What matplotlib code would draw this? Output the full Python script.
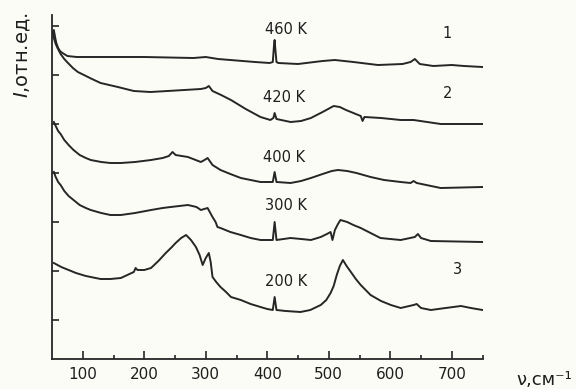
import numpy as np
import matplotlib
matplotlib.use('Agg')
import matplotlib.pyplot as plt

# Raman spectra, wavenumber (cm^-1) vs relative intensity (arb. units, curves offset)
v_460 = [50, 53, 55, 57, 60, 63, 67, 75, 90, 120, 200, 280, 300, 320, 380, 404, 409, 411, 412, 413, 415, 418,
         450, 490, 510, 540, 580, 620, 633, 640, 648, 670, 700, 720, 750]
i_460 = [325, 329, 322, 316, 311, 308, 306, 303, 302, 302, 302, 301, 302, 300, 297, 296, 297, 314, 319, 311, 297, 296,
         295, 298, 299, 297, 294, 295, 297, 300, 295, 293, 294, 293, 292]

v_420 = [52, 53, 56, 59, 64, 70, 76, 84, 92, 102, 115, 129, 143, 157, 170, 183, 210, 238, 265, 292, 300, 305,
         311, 325, 341, 365, 389, 405, 410, 412, 415, 438, 455, 471, 490, 508, 518, 528, 540, 552, 555, 558,
         585, 617, 638, 660, 682, 750]
i_420 = [326, 321, 315, 311, 305, 300, 296, 291, 287, 284, 280, 276, 274, 272, 270, 268, 267, 268, 269, 270, 271, 273,
         268, 264, 259, 250, 242, 239, 241, 246, 240, 237, 238, 241, 247, 253, 252, 249, 246, 243, 238, 242,
         241, 239, 239, 237, 235, 235]

v_400 = [53, 56, 60, 64, 70, 77, 85, 95, 105, 113, 130, 145, 162, 185, 211, 230, 240, 246, 251, 271, 292, 298,
         303, 311, 324, 340, 357, 373, 389, 409, 412, 415, 438, 455, 471, 490, 505, 515, 530, 545, 568, 590,
         617, 633, 638, 643, 682, 750]
i_400 = [237, 233, 228, 225, 219, 214, 209, 204, 201, 199, 197, 196, 196, 197, 199, 201, 203, 207, 204, 202, 197, 199,
         201, 194, 189, 185, 181, 179, 177, 177, 187, 177, 176, 178, 181, 185, 188, 189, 188, 186, 182, 179,
         177, 176, 178, 176, 171, 172]

v_300 = [53, 56, 60, 64, 70, 77, 85, 95, 105, 113, 130, 145, 162, 185, 211, 230, 243, 271, 285, 292, 303, 311,
         316, 319, 324, 340, 357, 373, 389, 409, 412, 415, 438, 455, 471, 487, 497, 503, 506, 510, 515, 519,
         530, 540, 552, 568, 584, 600, 617, 640, 645, 650, 666, 750]
i_300 = [187, 182, 177, 174, 168, 163, 159, 154, 151, 149, 146, 144, 144, 146, 149, 151, 152, 154, 152, 149, 151, 142,
         137, 132, 131, 127, 124, 121, 119, 119, 137, 119, 121, 120, 119, 122, 125, 127, 119, 129, 135, 139,
         137, 134, 131, 126, 121, 120, 119, 122, 125, 121, 118, 117]

v_200 = [53, 65, 77, 89, 105, 129, 145, 162, 183, 186, 189, 200, 211, 223, 235, 245, 251, 260, 268, 276, 284, 290,
         295, 300, 305, 308, 311, 317, 324, 333, 341, 357, 373, 389, 400, 409, 412, 415, 430, 454, 470, 487,
         496, 503, 508, 513, 518, 523, 529, 536, 544, 552, 560, 568, 585, 601, 617, 638, 643, 650, 666, 690,
         715, 731, 750]
i_200 = [96, 92, 89, 86, 83, 80, 80, 81, 87, 91, 89, 89, 91, 98, 106, 112, 116, 121, 124, 119, 112, 104,
         94, 101, 106, 97, 82, 77, 72, 67, 62, 59, 55, 52, 50, 49, 62, 49, 48, 47, 49, 54,
         59, 66, 73, 84, 93, 99, 93, 87, 80, 74, 69, 64, 58, 54, 51, 54, 55, 51, 49, 51,
         53, 51, 49]

temps = ['460 K', '420 K', '400 K', '300 K', '200 K']
temp_pos = [(430, 330), (428, 262), (428, 202), (430, 154), (430, 77)]
nums = ['1', '2', '3']
num_pos = [(693, 326), (693, 266), (710, 89)]

ink = '#262626'
fig = plt.figure(figsize=(5.76, 3.89), dpi=100, facecolor='#fcfcf7')
ax = fig.add_axes([52 / 576, 30 / 389, 430.5 / 576, 344 / 389])
ax.set_facecolor('#fcfcf7')

for v, i in [(v_460, i_460), (v_420, i_420), (v_400, i_400), (v_300, i_300), (v_200, i_200)]:
    ax.plot(v, i, color=ink, lw=1.4, solid_joinstyle='round')

for t, (x, y) in zip(temps, temp_pos):
    ax.text(x, y, t, ha='center', va='center', fontsize=10.5, color='#1e1e1e')
for t, (x, y) in zip(nums, num_pos):
    ax.text(x, y, t, ha='center', va='center', fontsize=10.5, color='#1e1e1e')

ax.set_xlim(50, 750)
ax.set_ylim(0, 344)
ax.set_xticks(range(100, 800, 100))
ax.set_xticks(range(150, 800, 100), minor=True)
ax.set_yticks(np.arange(39, 344, 49))
ax.set_yticklabels([])
ax.tick_params(axis='x', which='major', direction='in', length=6, width=1.2, color=ink,
               labelsize=11, labelcolor='#1e1e1e', pad=6)
ax.tick_params(axis='x', which='minor', direction='in', length=3, width=1.2, color=ink)
ax.tick_params(axis='y', direction='in', length=5, width=1.2, color=ink)
for s in ['top', 'right']:
    ax.spines[s].set_visible(False)
for s in ['left', 'bottom']:
    ax.spines[s].set_color(ink)
    ax.spines[s].set_linewidth(1.3)

fig.text(22 / 576, 1 - 55 / 389, '$I$,отн.ед.', rotation=90, ha='center', va='center',
         fontsize=14, color='#1e1e1e')
fig.text(516 / 576, 1 - 380 / 389, 'ν,см⁻¹', ha='left', va='center', fontsize=13, color='#1e1e1e')

fig.savefig('out.png', dpi=100, facecolor=fig.get_facecolor())
